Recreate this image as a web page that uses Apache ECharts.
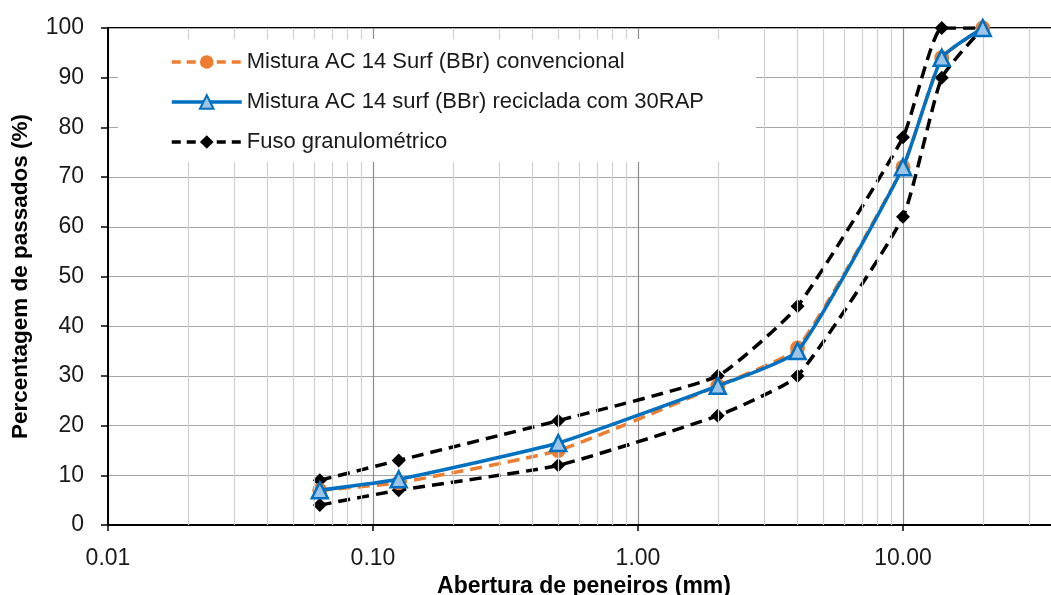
<!DOCTYPE html>
<html><head><meta charset="utf-8">
<script src="https://cdn.jsdelivr.net/npm/echarts@6/dist/echarts.min.js"></script>
<style>html,body{margin:0;padding:0;background:#fff}#c{width:1051px;height:595px}</style>
</head><body><div id="c"></div>
<script>
// ---- data ----
const sieves = [0.063, 0.125, 0.5, 2, 4, 10, 14, 20];
const convencional = [7, 8.5, 15, 28, 35.6, 72, 94, 100];
const reciclada = [7, 9.2, 16.5, 28, 35, 72, 94, 100];
const fusoSuperior = [9, 13, 21, 30, 44, 78, 100, 100];
const fusoInferior = [4, 7, 12, 22, 30, 62, 90, 100];
const legendNames = ['Mistura AC 14 Surf (BBr) convencional', 'Mistura AC 14 surf (BBr) reciclada com 30RAP', 'Fuso granulométrico'];
const xTitle = 'Abertura de peneiros (mm)';
const yTitle = 'Percentagem de passados (%)';

const pairs = ys => sieves.map((x, i) => [x, ys[i]]);
const minorX = [];
[0.01, 0.1, 1, 10].forEach(d => { for (let k = 2; k <= 9; k++) minorX.push(+(d * k).toPrecision(3)); });

const NARROW = '"Liberation Sans", Arial, sans-serif';
const BOLD = '"Liberation Sans", Arial, sans-serif';
const DASH = [12, 7];
const SMOOTH = 0.15;

const chart = echarts.init(document.getElementById('c'), null, {renderer: 'canvas'});
chart.setOption({
  animation: false,
  backgroundColor: '#fff',
  grid: {left: 108, top: 28, height: 497, width: 1060, containLabel: false, outerBoundsMode: 'none',
         show: true, borderColor: '#000', borderWidth: 2, backgroundColor: 'transparent'},
  legend: {
    data: [
      {name: legendNames[0], lineStyle: {width: 3.5, type: [9, 6], color: '#ED7D31'}},
      {name: legendNames[1], lineStyle: {width: 3.5, color: '#0070C0'}},
      {name: legendNames[2], lineStyle: {width: 3.5, type: [9, 6], color: '#000'}}
    ],
    orient: 'vertical',
    left: 118, top: 39,
    padding: [11, 52, 8, 52],
    backgroundColor: '#fff',
    itemWidth: 70, itemHeight: 17, itemGap: 16,
    textStyle: {fontFamily: NARROW, fontSize: 22, color: '#1a1a1a', lineHeight: 24},
    z: 10
  },
  xAxis: {
    type: 'log', logBase: 10, min: 0.01, max: 100,
    name: xTitle, nameLocation: 'middle', nameGap: 50,
    nameTextStyle: {fontFamily: BOLD, fontWeight: 'bold', fontSize: 23, color: '#000', padding: [0, 108, 0, 0]},
    axisLine: {show: true, lineStyle: {color: '#000', width: 2}},
    axisTick: {show: true, inside: false, length: 6, lineStyle: {color: '#000', width: 1.5}},
    axisLabel: {fontFamily: NARROW, fontSize: 23, color: '#1a1a1a', margin: 22, formatter: v => Number(v).toFixed(2)},
    splitLine: {show: true, lineStyle: {color: '#8c8c8c', width: 1.2}}
  },
  yAxis: {
    type: 'value', min: 0, max: 100, interval: 10,
    name: yTitle, nameLocation: 'middle', nameGap: 76, nameRotate: 90,
    nameTextStyle: {fontFamily: BOLD, fontWeight: 'bold', fontSize: 22.5, color: '#000'},
    axisLine: {show: true, lineStyle: {color: '#000', width: 2}},
    axisTick: {show: true, inside: false, length: 7, lineStyle: {color: '#000', width: 1.5}},
    axisLabel: {fontFamily: NARROW, fontSize: 23, color: '#1a1a1a', margin: 24},
    splitLine: {show: true, lineStyle: {color: '#a6a6a6', width: 1.2}}
  },
  series: [
    {
      name: 'minor', type: 'line', data: [], silent: true, z: 1,
      markLine: {
        silent: true, symbol: ['none', 'none'], label: {show: false},
        lineStyle: {color: '#d0d0d0', type: 'solid', width: 1.2},
        data: minorX.map(v => ({xAxis: v}))
      }
    },
    {
      name: legendNames[2], type: 'line', data: pairs(fusoSuperior), smooth: SMOOTH, z: 3,
      symbol: 'diamond', symbolSize: 14,
      lineStyle: {color: '#000', width: 3.5, type: DASH},
      itemStyle: {color: '#000'}
    },
    {
      name: legendNames[2], type: 'line', data: pairs(fusoInferior), smooth: SMOOTH, z: 3,
      symbol: 'diamond', symbolSize: 14,
      lineStyle: {color: '#000', width: 3.5, type: DASH},
      itemStyle: {color: '#000'}
    },
    {
      name: legendNames[0], type: 'line', data: pairs(convencional), smooth: SMOOTH, z: 4,
      symbol: 'circle', symbolSize: 15,
      lineStyle: {color: '#ED7D31', width: 3.5, type: DASH},
      itemStyle: {color: '#ED7D31'}
    },
    {
      name: legendNames[1], type: 'line', data: pairs(reciclada), smooth: SMOOTH, z: 5,
      symbol: 'triangle', symbolSize: 16,
      lineStyle: {color: '#0070C0', width: 3.5},
      itemStyle: {color: '#9DC3E6', borderColor: '#0070C0', borderWidth: 2.5}
    }
  ]
});
</script>
</body></html>
